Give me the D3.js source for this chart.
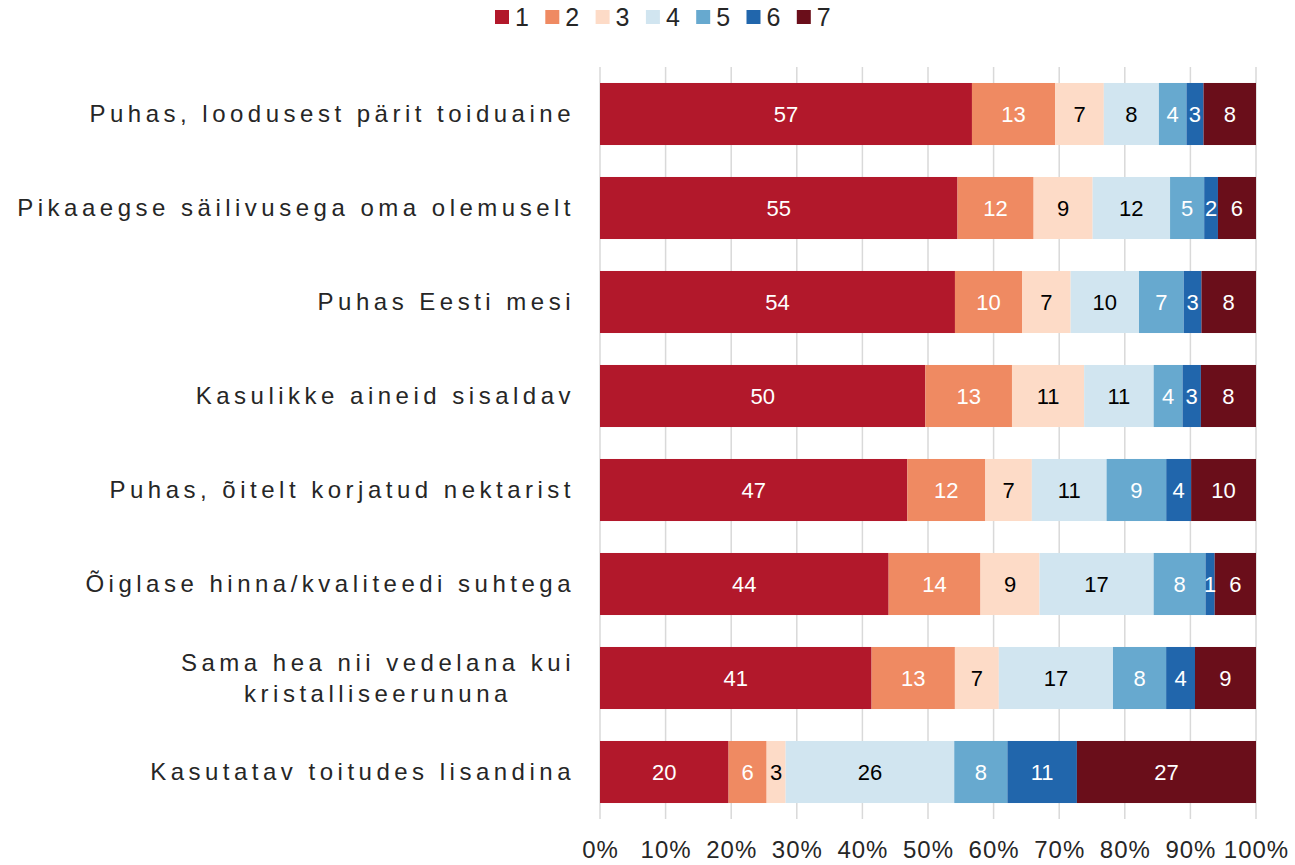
<!DOCTYPE html>
<html>
<head>
<meta charset="utf-8">
<script src="https://cdn.jsdelivr.net/npm/d3@7"></script>
<style>
  body { margin: 0; background: #fff; }
  svg { display: block; font-family: "Liberation Sans", Arial, sans-serif; }
</style>
</head>
<body>
<svg id="chart" width="1295" height="865"></svg>
<script>
const categories = [
  "Puhas, loodusest pärit toiduaine",
  "Pikaaegse säilivusega oma olemuselt",
  "Puhas Eesti mesi",
  "Kasulikke aineid sisaldav",
  "Puhas, õitelt korjatud nektarist",
  "Õiglase hinna/kvaliteedi suhtega",
  "Sama hea nii vedelana kui\nkristalliseerununa",
  "Kasutatav toitudes lisandina"
];
const seriesNames = ["1", "2", "3", "4", "5", "6", "7"];
const s1 = [56.7, 54.5, 54.0, 49.6, 46.9, 44.0, 41.4, 19.6];
const s2 = [12.7, 11.6, 10.2, 13.2, 11.9, 14.0, 12.7, 5.8];
const s3 = [7.4, 9.0, 7.4, 11.0, 7.1, 9.0, 6.7, 2.9];
const s4 = [8.4, 11.8, 10.4, 10.6, 11.4, 17.4, 17.4, 25.7];
const s5 = [4.2, 5.2, 6.8, 4.4, 9.1, 7.9, 8.1, 8.1];
const s6 = [2.6, 2.1, 2.7, 2.8, 3.8, 1.4, 4.4, 10.6];
const s7 = [8.0, 5.8, 8.3, 8.4, 9.9, 6.3, 9.3, 27.3];
const tickValues = [0, 10, 20, 30, 40, 50, 60, 70, 80, 90, 100];
const colors = ["#b2182b", "#ef8a62", "#fddbc7", "#d1e5f0", "#67a9cf", "#2166ac", "#6a0e1a"];
const labelColors = ["#fff", "#fff", "#000", "#000", "#fff", "#fff", "#fff"];

const seriesValues = [s1, s2, s3, s4, s5, s6, s7];
const rows = categories.map((c, i) => {
  const r = { cat: c };
  seriesNames.forEach((s, j) => r[s] = seriesValues[j][i]);
  return r;
});

const svg = d3.select("#chart");
const x = d3.scaleLinear().domain([0, 100]).range([600, 1256]);
const y = d3.scaleBand().domain(categories).range([67, 819]).paddingInner(0.34).paddingOuter(0.17);
const color = d3.scaleOrdinal().domain(seriesNames).range(colors);
const lblColor = d3.scaleOrdinal().domain(seriesNames).range(labelColors);

// gridlines
svg.append("g").selectAll("line").data(tickValues).join("line")
  .attr("x1", d => x(d)).attr("x2", d => x(d))
  .attr("y1", 67).attr("y2", 819)
  .attr("stroke", "#d9d9d9").attr("stroke-width", 1.5);

// stack normalized per row
const stack = d3.stack().keys(seriesNames).offset(d3.stackOffsetExpand);
const stacked = stack(rows);

const layers = svg.append("g").selectAll("g").data(stacked).join("g")
  .attr("fill", d => color(d.key));
layers.selectAll("rect").data(d => d.map(p => ({ p, key: d.key }))).join("rect")
  .attr("x", d => x(d.p[0] * 100))
  .attr("width", d => x(d.p[1] * 100) - x(d.p[0] * 100))
  .attr("y", d => y(d.p.data.cat))
  .attr("height", y.bandwidth());

// value labels
const lbls = svg.append("g").attr("font-size", 22).attr("text-anchor", "middle");
stacked.forEach(layer => {
  layer.forEach(p => {
    const v = p.data[layer.key];
    lbls.append("text")
      .attr("x", (x(p[0] * 100) + x(p[1] * 100)) / 2)
      .attr("y", y(p.data.cat) + y.bandwidth() / 2)
      .attr("dy", "0.36em")
      .attr("fill", lblColor(layer.key))
      .text(Math.round(v));
  });
});

// category labels
const catG = svg.append("g").attr("font-size", 24).attr("fill", "#262626")
  .style("letter-spacing", "4.5px");
categories.forEach(c => {
  const lines = c.split("\n");
  const cy = y(c) + y.bandwidth() / 2;
  const lh = 31;
  const t = catG.append("text").attr("text-anchor", "middle");
  lines.forEach((ln, i) => {
    t.append("tspan").attr("y", cy + (i - (lines.length - 1) / 2) * lh).attr("dy", "0.35em").text(ln);
  });
  let maxW = 0;
  t.selectAll("tspan").each(function() { maxW = Math.max(maxW, this.getComputedTextLength()); });
  const right = 575;
  t.selectAll("tspan").attr("x", right - maxW / 2);
});

// x axis
const axis = d3.axisBottom(x).tickValues(tickValues).tickSize(0).tickFormat(d => d + "%");
const ax = svg.append("g").attr("transform", "translate(0,838)").call(axis);
ax.select(".domain").remove();
ax.selectAll("text").attr("font-size", 24).attr("fill", "#262626")
  .attr("font-family", "Liberation Sans, Arial, sans-serif").attr("dy", "0.71em")
  .style("letter-spacing", "1px");

// legend
const leg = svg.append("g");
seriesNames.forEach((s, i) => {
  const lx = 495 + i * 50.3;
  leg.append("rect").attr("x", lx).attr("y", 10).attr("width", 14).attr("height", 14).attr("fill", color(s));
  leg.append("text").attr("x", lx + 20).attr("y", 26).attr("font-size", 25).attr("fill", "#262626").text(s);
});
</script>
</body>
</html>
